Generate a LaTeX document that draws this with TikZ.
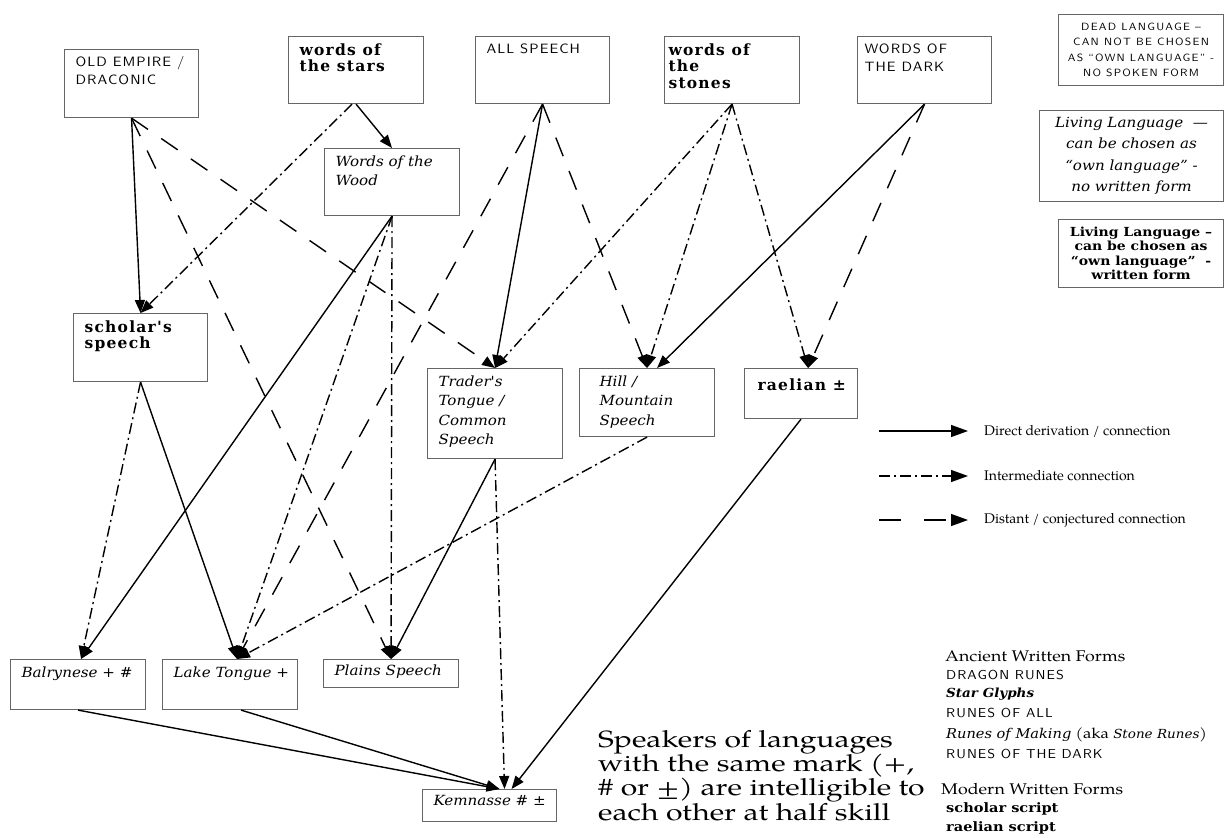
\documentclass[tikz,border=0pt]{standalone}
\usepackage{fontspec}
\usetikzlibrary{arrows.meta}
\newfontfamily\palfont{texgyrepagella-regular.otf}
\newfontfamily\palwide{texgyrepagella-regular.otf}[FakeStretch=1.15]
\newfontfamily\palnote{texgyrepagella-regular.otf}[FakeStretch=1.28]
\newfontfamily\calit{DejaVu Serif}[FakeStretch=1.08]
\newfontfamily\capsf{lmsans10-regular.otf}[FakeStretch=1.08, LetterSpace=8]
\newfontfamily\capss{lmsans10-regular.otf}[FakeStretch=1.1, LetterSpace=12]
\newfontfamily\uncb{DejaVu Serif}[LetterSpace=8]
\newfontfamily\uncs{DejaVu Serif}[FakeStretch=1.12]
\newcommand\bxt[3]{\parbox[c][#2][t]{#1}{\raggedright #3}}
\newcommand\tightlines{\lineskiplimit=-20pt\relax}
\begin{document}
\begin{tikzpicture}[x=1pt,y=-1pt,
  lang/.style={draw=black!60, line width=1.1pt, inner xsep=11pt, inner ysep=7pt, anchor=north west},
  legbox/.style={draw=black!60, line width=1.1pt, inner sep=2pt, anchor=north west, align=center},
  cdirect/.style={-{Triangle[length=13pt,width=10pt]}, line width=1.4pt},
  cinter/.style={cdirect, dash pattern=on 11pt off 4pt on 2pt off 4pt},
  cdist/.style={cdirect, dash pattern=on 20pt off 16pt},
  legarrow/.style={-{Triangle[length=17pt,width=12pt]}},
  legtext/.style={anchor=west, inner sep=0pt, font=\palfont\fontsize{14}{16}\selectfont},
  coltext/.style={anchor=base west, inner sep=0pt},
  fcaps/.style={font=\capsf\fontsize{13.5}{18}\selectfont},
  fital/.style={font=\calit\itshape\fontsize{14}{19.5}\selectfont},
  fbold/.style={font=\uncb\bfseries\fontsize{15.5}{16.5}\selectfont},
  fhead/.style={font=\palwide\fontsize{15.5}{17}\selectfont},
  frune/.style={font=\capsf\fontsize{13}{14}\selectfont},
  fscript/.style={font=\uncs\bfseries\fontsize{13}{14}\selectfont}
]
\useasboundingbox (0,0) rectangle (1227,838);
\fill[white] (0,0) rectangle (1227,838);

% top row
\node[lang, fcaps] (oe) at (64,49) {\bxt{112pt}{54pt}{OLD EMPIRE /\\DRACONIC}};
\node[lang, fbold] (st) at (288,36) {\bxt{113pt}{53pt}{words of\\the stars}};
\node[lang, fcaps] (al) at (475,36) {\bxt{112pt}{53pt}{ALL SPEECH}};
\node[lang, fbold, inner xsep=4pt] (sn) at (664,36) {\bxt{127pt}{53pt}{words of\\the\\stones}};
\node[lang, fcaps, inner xsep=7pt] (dk) at (857,36) {\bxt{120pt}{53pt}{WORDS OF\\THE DARK}};

% second level
\node[lang, fital] (wd) at (324,148) {\bxt{113pt}{53pt}{Words of the\\Wood}};
\node[lang, fbold] (sc) at (73,313) {\bxt{112pt}{54pt}{scholar's\\speech}};
\node[lang, fital] (tr) at (427,368) {\bxt{113pt}{76pt}{Trader's\\Tongue /\\Common\\Speech}};
\node[lang, fital] (hl) at (579,368) {\bxt{113pt}{54pt}{\leftskip=9pt Hill /\\Mountain\\Speech}};
\node[lang, fbold, inner xsep=13pt] (ra) at (744,368) {\bxt{87pt}{36pt}{\vspace*{3pt}\mbox{raelian ±}}};

% bottom level
\node[lang, fital] (ba) at (10,659) {\bxt{113pt}{36pt}{\mbox{Balrynese + \#}}};
\node[lang, fital] (lk) at (162,659) {\bxt{113pt}{36pt}{\mbox{Lake Tongue +}}};
\node[lang, fital, inner ysep=5pt] (pl) at (323,659) {\bxt{113pt}{18pt}{\mbox{Plains Speech}}};
\node[lang, fital, inner ysep=6pt] (km) at (422,789) {\bxt{112pt}{20pt}{\mbox{Kemnasse \# ±}}};

% legend boxes
\node[legbox, minimum width=165pt, minimum height=71pt, font=\capss\fontsize{10.5}{15.5}\selectfont] (dl) at (1058,14)
  {DEAD LANGUAGE –\\CAN NOT BE CHOSEN\\AS “OWN LANGUAGE” -\\NO SPOKEN FORM};
\node[legbox, minimum width=184pt, minimum height=91pt, font=\calit\itshape\fontsize{14}{21.5}\selectfont] (ln) at (1039,110)
  {Living Language \ —\\can be chosen as\\“own language” -\\no written form};
\node[legbox, minimum width=165pt, minimum height=68pt, font=\uncs\bfseries\fontsize{12.5}{14.5}\selectfont] (lw) at (1058,219)
  {Living Language –\\can be chosen as\\“own language” \ -\\written form};

% connectors: direct
\draw[cdirect] (oe.south) -- (sc.north);
\draw[cdirect] (st.south) -- (wd.north);
\draw[cdirect] (al.south) -- (tr.north);
\draw[cdirect] (dk.south) -- ([xshift=10pt]hl.north);
\draw[cdirect] (wd.south) -- ([xshift=3pt]ba.north);
\draw[cdirect] (sc.south) -- ([xshift=7pt]lk.north);
\draw[cdirect] (tr.south) -- (pl.north);
\draw[cdirect] (ra.south) -- ([xshift=22pt]km.north);
\draw[cdirect] (ba.south) -- ([xshift=10pt]km.north);
\draw[cdirect] ([xshift=11pt]lk.south) -- ([xshift=10pt]km.north);
% intermediate
\draw[cinter] ([xshift=-4pt]st.south) -- (sc.north);
\draw[cinter] (sn.south) -- (tr.north);
\draw[cinter] (sn.south) -- (hl.north);
\draw[cinter] (sn.south) -- ([xshift=7pt]ra.north);
\draw[cinter] (wd.south) -- ([xshift=7pt]lk.north);
\draw[cinter] (wd.south) -- (pl.north);
\draw[cinter] (sc.south) -- ([xshift=3pt]ba.north);
\draw[cinter] (tr.south) -- ([xshift=15pt]km.north);
\draw[cinter] (hl.south) -- ([xshift=7pt]lk.north);
% distant
\draw[cdist] (oe.south) -- (tr.north);
\draw[cdist] (oe.south) -- (pl.north);
\draw[cdist] (al.south) -- ([xshift=7pt]lk.north);
\draw[cdist] (al.south) -- (hl.north);
\draw[cdist] (dk.south) -- ([xshift=7pt]ra.north);

% line legend
\coordinate (l1a) at (879,431); \coordinate (l1b) at (968,431);
\coordinate (l2a) at (879,476); \coordinate (l2b) at (968,476);
\coordinate (l3a) at (879,520); \coordinate (l3b) at (968,520);
\draw[cdirect, legarrow] (l1a) -- (l1b);
\draw[cinter, legarrow] (l2a) -- (l2b);
\draw[cdirect, legarrow, dash pattern=on 22pt off 23pt] (l3a) -- (l3b);
\node[legtext] (t1) at (984,431) {Direct derivation / connection};
\node[legtext] (t2) at (984,476) {Intermediate connection};
\node[legtext] (t3) at (984,520) {Distant / conjectured connection};

% note
\node[anchor=north west, inner sep=0pt, align=left, font=\palnote\fontsize{23.5}{24.3}\selectfont, execute at begin node=\tightlines] (spk) at (598,730)
  {Speakers of languages\\with the same mark (+,\\\# or ±) are intelligible to\\each other at half skill};

% written forms
\node[coltext, fhead] (anc) at (945,661) {Ancient Written Forms};
\node[coltext, frune] (drg) at (946,679) {DRAGON RUNES};
\node[coltext, font=\calit\bfseries\itshape\fontsize{12.5}{14}\selectfont] (stg) at (946,697) {Star Glyphs};
\node[coltext, frune] (roa) at (946,717) {RUNES OF ALL};
\node[coltext, font=\palwide\fontsize{14.5}{16}\selectfont] (rom) at (946,738) {{\calit\itshape\fontsize{13.5}{16}\selectfont Runes of Making} (aka {\calit\itshape\fontsize{12.5}{16}\selectfont Stone Runes})};
\node[coltext, frune] (rod) at (946,758) {RUNES OF THE DARK};
\node[coltext, fhead] (mod) at (941,794) {Modern Written Forms};
\node[coltext, fscript] (ssc) at (946,812) {scholar script};
\node[coltext, fscript] (rsc) at (946,831) {raelian script};
\end{tikzpicture}
\end{document}
